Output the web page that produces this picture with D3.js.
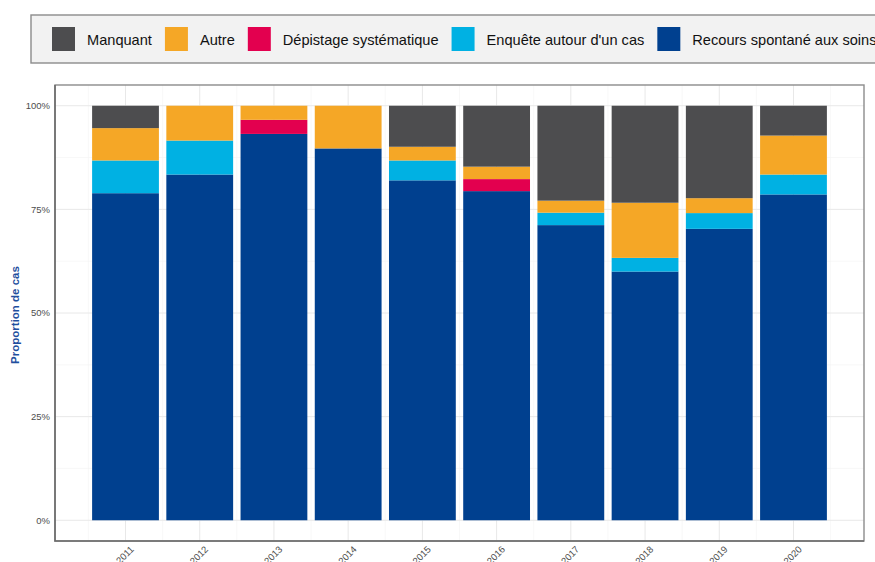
<!DOCTYPE html>
<html>
<head>
<meta charset="utf-8">
<script src="https://cdn.jsdelivr.net/npm/d3@7"></script>
<style>
  body { margin: 0; background: #fff; }
  svg { display: block; font-family: "Liberation Sans", Arial, sans-serif; }
</style>
</head>
<body>
<svg id="chart" width="875" height="562"></svg>
<script>
const years = ['2011','2012','2013','2014','2015','2016','2017','2018','2019','2020'];
// shares in % per category, bottom to top
const recours   = [78.9, 83.4, 93.2, 89.7, 82.0, 79.4, 71.2, 60.0, 70.3, 78.6];
const enquete   = [ 7.9,  8.2,  0.0,  0.0,  4.8,  0.0,  3.0,  3.3,  3.8,  4.8];
const depistage = [ 0.0,  0.0,  3.4,  0.0,  0.0,  2.9,  0.0,  0.0,  0.0,  0.0];
const autre     = [ 7.8,  8.4,  3.4, 10.3,  3.3,  3.0,  2.9, 13.3,  3.6,  9.4];
const manquant  = [ 5.4,  0.0,  0.0,  0.0,  9.9, 14.7, 22.9, 23.4, 22.3,  7.2];
const yTicks = [0, 25, 50, 75, 100];

const series = [
  { key: 'Recours spontané aux soins', values: recours,   color: '#00408f' },
  { key: "Enquête autour d'un cas",    values: enquete,   color: '#00b1e3' },
  { key: 'Dépistage systématique',     values: depistage, color: '#e3004f' },
  { key: 'Autre',                      values: autre,     color: '#f5a726' },
  { key: 'Manquant',                   values: manquant,  color: '#4d4d4f' },
];

const svg = d3.select('#chart');
const P = { left: 55, right: 864, top: 85, bottom: 541 };

const x = d3.scaleLinear().domain([-0.95, years.length - 0.05]).range([P.left, P.right]);
const step = x(1) - x(0);
const y = d3.scaleLinear().domain([-5, 105]).range([P.bottom, P.top]);

// grid
const g = svg.append('g');
d3.range(-0.5, years.length, 1).forEach(v => {
  g.append('line').attr('x1', x(v)).attr('x2', x(v)).attr('y1', P.top).attr('y2', P.bottom)
    .attr('stroke', '#f3f3f3').attr('stroke-width', 0.6);
});
[12.5, 37.5, 62.5, 87.5].forEach(v => {
  g.append('line').attr('x1', P.left).attr('x2', P.right).attr('y1', y(v)).attr('y2', y(v))
    .attr('stroke', '#f3f3f3').attr('stroke-width', 0.6);
});
years.forEach((d, i) => {
  g.append('line').attr('x1', x(i)).attr('x2', x(i)).attr('y1', P.top).attr('y2', P.bottom)
    .attr('stroke', '#e8e8e8').attr('stroke-width', 1);
});
yTicks.forEach(v => {
  g.append('line').attr('x1', P.left).attr('x2', P.right).attr('y1', y(v)).attr('y2', y(v))
    .attr('stroke', '#e8e8e8').attr('stroke-width', 1);
});

// stacked bars
const rows = years.map((yr, i) => {
  const o = { year: i };
  series.forEach(s => o[s.key] = s.values[i]);
  return o;
});
const stack = d3.stack().keys(series.map(s => s.key))(rows);
const bw = step * 0.9;
stack.forEach((layer, li) => {
  svg.append('g').attr('fill', series[li].color)
    .selectAll('rect').data(layer).join('rect')
    .attr('x', d => x(d.data.year) - bw / 2)
    .attr('width', bw)
    .attr('y', d => y(d[1]))
    .attr('height', d => Math.max(0, y(d[0]) - y(d[1])));
});

// panel border
svg.append('rect').attr('x', P.left).attr('y', P.top)
  .attr('width', P.right - P.left).attr('height', P.bottom - P.top)
  .attr('fill', 'none').attr('stroke', '#8c8c8c').attr('stroke-width', 1.4);
svg.append('path').attr('d', `M${P.left},${P.top}V${P.bottom}H${P.right}`)
  .attr('fill', 'none').attr('stroke', '#6b6b6b').attr('stroke-width', 1.6);

// y axis labels
yTicks.forEach(v => {
  svg.append('text').attr('x', 50).attr('y', y(v)).attr('dy', '0.35em')
    .attr('text-anchor', 'end').attr('font-size', 9.5).attr('fill', '#4d4d4d')
    .text(v + '%');
});
svg.append('text').attr('transform', `translate(19,${(P.top + P.bottom) / 2 + 2}) rotate(-90)`)
  .attr('text-anchor', 'middle').attr('font-size', 11.5).attr('font-weight', 'bold')
  .attr('fill', '#1f4f9e').text('Proportion de cas');

// x axis labels (cut by the bottom edge, as in the original)
years.forEach((d, i) => {
  svg.append('text').attr('transform', `translate(${x(i) + 6},${P.bottom + 6}) rotate(-45)`)
    .attr('text-anchor', 'end').attr('dy', '0.45em').attr('font-size', 9.5).attr('fill', '#4d4d4d')
    .text(d);
});

// legend
svg.append('rect').attr('x', 31).attr('y', 15).attr('width', 860).attr('height', 48)
  .attr('fill', '#f2f2f2').attr('stroke', '#8c8c8c').attr('stroke-width', 1.4);
const legendOrder = series.slice().reverse();
let lx = 52;
legendOrder.forEach(s => {
  svg.append('rect').attr('x', lx).attr('y', 27).attr('width', 23).attr('height', 24)
    .attr('fill', s.color);
  const t = svg.append('text').attr('x', lx + 35).attr('y', 45).attr('font-size', 14.6)
    .attr('fill', '#111').text(s.key);
  lx += 35 + t.node().getComputedTextLength() + 13;
});
</script>
</body>
</html>
